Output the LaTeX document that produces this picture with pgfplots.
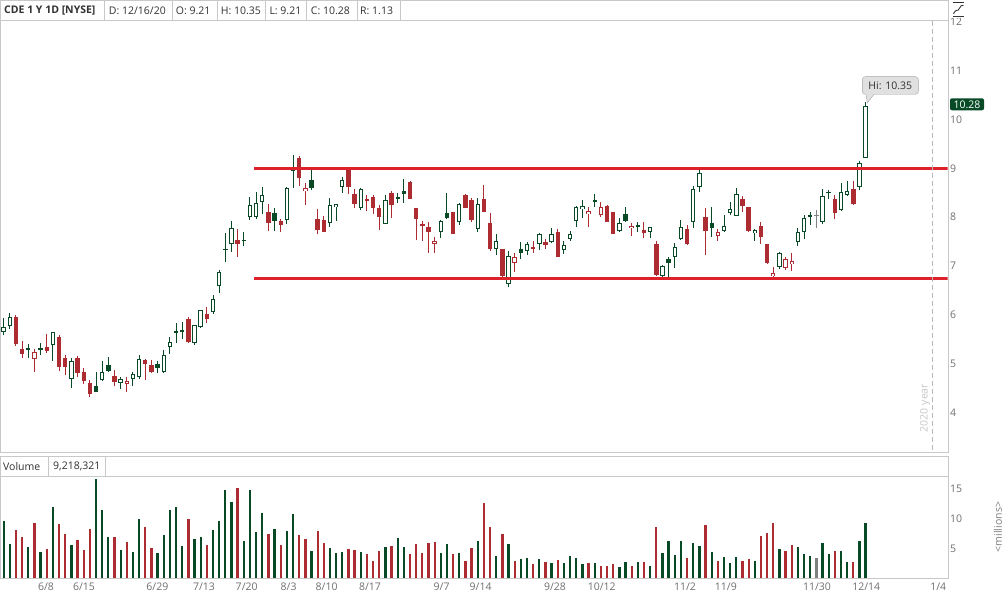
\documentclass[border=0pt]{standalone}
\usepackage{fontspec}
\setmainfont{Open Sans}
\usepackage{pgfplots}
\usepackage{pgfplotstable}
\pgfplotsset{compat=1.18}
\definecolor{cgreen}{RGB}{8,74,38}
\definecolor{cred}{RGB}{172,44,50}
\definecolor{cgray}{RGB}{128,128,128}
\definecolor{rline}{RGB}{222,34,44}
\definecolor{lbl}{RGB}{112,112,112}
\definecolor{frame}{RGB}{200,200,200}
\definecolor{txt}{RGB}{50,50,50}
\newcommand\tf{\fontsize{10.5}{12}\selectfont}

% i open high low close class volume(millions)
% class: 1 hollow green, 2 filled green, 3 hollow red, 4 filled red, 5 gray
\pgfplotstableread{
i o h l c k v
0 5.646 5.932 5.591 5.755 1 9.7
1 5.782 6.034 5.714 5.959 1 5.8
2 5.959 6.007 5.366 5.414 4 8.1
3 5.305 5.462 5.114 5.210 4 7.0
4 5.325 5.407 5.114 5.278 2 5.3
5 5.094 5.305 4.841 5.250 3 9.3
6 5.298 5.434 5.182 5.312 1 4.4
7 5.339 5.619 5.216 5.264 4 4.9
8 5.380 5.659 5.060 5.646 1 11.9
9 5.550 5.584 4.862 4.944 4 9.2
10 5.121 5.175 4.773 4.930 4 7.5
11 4.685 5.114 4.501 5.060 1 5.6
12 5.121 5.162 4.739 4.821 4 6.5
13 4.835 4.910 4.589 4.657 4 4.8
14 4.610 4.671 4.330 4.392 4 8.3
15 4.542 4.828 4.419 4.433 2 16.6
16 4.664 5.066 4.651 4.828 1 11.5
17 4.971 5.148 4.828 4.855 2 7.0
18 4.753 4.876 4.542 4.637 4 7.0
19 4.617 4.739 4.487 4.698 1 4.8
20 4.596 4.726 4.419 4.651 3 6.1
21 4.685 4.828 4.555 4.794 1 4.4
22 4.739 5.182 4.698 5.094 1 10.0
23 5.080 5.094 4.671 5.005 4 8.7
24 4.971 5.080 4.821 4.842 4 5.1
25 4.998 5.060 4.821 4.923 2 4.3
26 4.828 5.285 4.814 5.175 1 7.3
27 5.339 5.557 5.203 5.448 1 11.5
28 5.673 5.844 5.434 5.639 2 11.9
29 5.694 5.864 5.503 5.659 2 5.4
30 5.918 5.952 5.421 5.448 4 10.0
31 5.434 5.803 5.380 5.789 1 6.6
32 5.755 6.109 5.741 6.096 1 7.0
33 6.021 6.157 5.830 5.925 4 5.6
34 6.055 6.402 6.021 6.327 1 8.1
35 6.587 6.921 6.443 6.873 1 9.7
36 7.336 7.670 7.084 7.350 1 14.9
37 7.445 7.929 7.289 7.786 1 12.9
38 7.527 7.752 7.186 7.459 4 15.2
39 7.520 7.704 7.404 7.534 1 6.3
40 8.011 8.407 7.943 8.243 1 14.9
41 8.011 8.509 7.957 8.284 1 7.8
42 8.304 8.611 8.066 8.447 1 11.0
43 8.107 8.263 7.725 7.888 4 7.5
44 8.086 8.195 7.725 7.929 2 8.3
45 7.929 7.970 7.698 7.847 4 5.6
46 7.950 8.625 7.861 8.591 1 8.0
47 8.952 9.272 8.604 8.966 1 10.8
48 9.211 9.259 8.638 8.795 4 7.3
49 8.529 8.693 8.243 8.591 3 6.6
50 8.754 8.966 8.557 8.604 2 4.6
51 7.957 8.161 7.657 7.739 4 8.0
52 7.943 8.032 7.704 7.704 4 6.0
53 7.888 8.386 7.793 8.243 1 5.1
54 8.202 8.263 7.929 8.263 1 4.3
55 8.625 8.816 8.502 8.754 1 4.4
56 8.966 8.979 8.475 8.625 4 4.9
57 8.468 8.570 8.195 8.270 4 4.8
58 8.182 8.604 8.148 8.570 1 4.4
59 8.372 8.447 8.134 8.345 4 4.1
60 8.413 8.447 8.066 8.195 4 2.9
61 8.188 8.243 7.739 8.011 4 4.6
62 7.854 8.447 7.854 8.345 1 5.3
63 8.495 8.543 7.977 8.257 4 5.4
64 8.407 8.488 8.284 8.366 2 6.8
65 8.536 8.781 8.284 8.468 2 5.3
66 8.727 8.747 8.366 8.379 4 4.1
67 8.182 8.182 7.534 7.963 4 5.8
68 7.854 7.923 7.514 7.841 4 4.3
69 7.800 7.909 7.261 7.704 4 6.0
70 7.452 7.602 7.261 7.514 3 6.1
71 7.704 7.943 7.568 7.923 1 4.3
72 8.086 8.488 7.963 7.990 2 5.8
73 8.099 8.113 7.649 7.656 4 4.1
74 7.895 8.283 7.840 8.270 1 4.3
75 8.454 8.474 8.181 8.195 4 2.9
76 8.351 8.386 7.908 7.942 4 5.1
77 7.765 8.386 7.697 8.263 1 6.3
78 8.372 8.658 8.099 8.113 4 12.7
79 7.888 8.092 7.315 7.349 4 8.7
80 7.343 7.649 7.227 7.513 1 3.8
81 7.343 7.356 6.770 6.797 4 7.5
82 6.627 7.309 6.565 7.206 1 5.8
83 7.056 7.261 6.886 7.179 3 2.9
84 7.349 7.499 7.145 7.261 2 3.3
85 7.315 7.499 7.227 7.452 1 3.4
86 7.384 7.520 7.274 7.370 4 2.4
87 7.452 7.683 7.329 7.649 1 3.3
88 7.493 7.547 7.343 7.438 4 2.8
89 7.499 7.772 7.465 7.656 1 2.6
90 7.697 7.752 7.193 7.193 4 3.1
91 7.329 7.513 7.240 7.424 1 2.6
92 7.554 7.724 7.520 7.656 1 3.8
93 7.929 8.229 7.806 8.201 1 3.4
94 8.167 8.351 7.977 8.229 1 2.4
95 8.058 8.215 7.806 8.127 3 2.6
96 8.331 8.474 8.201 8.345 1 2.6
97 8.045 8.304 8.011 8.201 3 2.1
98 8.229 8.249 7.908 7.908 4 2.1
99 8.106 8.113 7.656 7.656 4 2.4
100 7.718 7.977 7.704 7.888 1 1.9
101 8.065 8.201 7.908 7.922 2 2.8
102 7.772 7.874 7.622 7.820 3 2.1
103 7.813 7.895 7.704 7.827 1 2.8
104 7.738 7.895 7.568 7.670 4 2.8
105 7.690 7.806 7.581 7.793 1 2.1
106 7.452 7.520 6.798 6.818 4 8.7
107 6.804 7.022 6.784 7.002 1 4.3
108 7.138 7.193 6.764 7.070 2 6.3
109 7.193 7.466 6.954 7.397 1 3.9
110 7.554 7.943 7.534 7.793 1 6.3
111 7.759 7.840 7.432 7.452 4 3.4
112 7.895 8.645 7.786 8.570 1 6.0
113 8.624 8.965 8.509 8.911 1 5.4
114 7.997 8.181 7.227 7.725 4 9.0
115 7.875 8.215 7.602 7.786 2 4.4
116 7.622 7.759 7.520 7.691 3 2.9
117 7.725 8.045 7.691 7.813 1 3.6
118 8.079 8.304 8.045 8.161 1 2.6
119 8.031 8.590 8.031 8.475 1 3.6
120 8.372 8.440 8.099 8.236 4 2.9
121 8.209 8.209 7.704 7.725 4 3.3
122 7.670 7.759 7.520 7.738 1 2.9
123 7.820 7.909 7.445 7.602 4 7.1
124 7.452 7.452 7.036 7.057 4 7.6
125 6.798 6.975 6.750 6.852 3 9.3
126 6.975 7.295 6.941 7.261 1 4.9
127 6.968 7.193 6.920 7.145 3 4.6
128 7.036 7.275 6.907 7.104 3 5.6
129 7.500 7.772 7.418 7.691 1 5.3
130 7.704 8.045 7.554 7.977 1 4.1
131 8.025 8.113 7.840 8.038 1 3.8
132 8.040 8.147 7.786 8.038 5 3.4
133 7.909 8.577 7.861 8.440 1 6.0
134 8.502 8.556 8.365 8.515 1 4.1
135 8.365 8.454 7.963 8.079 4 4.6
136 8.147 8.693 8.134 8.522 1 4.6
137 8.454 8.740 8.440 8.543 1 2.8
138 8.570 8.740 8.250 8.263 4 2.8
139 8.611 9.149 8.556 9.115 1 6.3
140 9.21 10.35 9.21 10.28 1 9.22
}\candles

\pgfplotsset{
  ebar/.style n args={3}{draw=none, mark=none, forget plot,
    restrict expr to domain={\thisrow{k}}{#1},
    error bars/.cd, y dir=both, y explicit, error mark=none,
    error bar style={line width=#3, draw=#2, line cap=butt, solid}},
  vbar/.style 2 args={ycomb, mark=none, line width=2.3pt, draw=#2, line cap=butt,
    restrict expr to domain={\thisrow{k}}{#1}},
  chartaxis/.style={scale only axis, width=947.7pt, xmin=-0.596, xmax=153.33,
    axis line style={draw=frame}, tick style={draw=none}, major tick length=0pt,
    yticklabel pos=right, xtick=\empty,
    /pgf/number format/assume math mode=true,
    yticklabel style={anchor=west, inner sep=0pt, xshift=2.3pt, text=lbl, font=\tf},
    axis background/.style={fill=white}},
}

\begin{document}
\begin{tikzpicture}
\path[use as bounding box] (0pt,0pt) rectangle (1007pt,597pt);
\fill[white] (0pt,0pt) rectangle (1007pt,597pt);

% ---------- price panel ----------
\begin{axis}[chartaxis, at={(0pt,144.7pt)}, anchor=south west, height=452.3pt,
  ymin=3.192, ymax=12.442, ytick={4,5,6,7,8,9,10,11,12}]
% wicks
\addplot[ebar={1:2}{cgreen}{1pt}] table[x=i, y expr={(\thisrow{h}+\thisrow{l})/2}, y error expr={(\thisrow{h}-\thisrow{l})/2}] {\candles};
\addplot[ebar={3:4}{cred}{1pt}] table[x=i, y expr={(\thisrow{h}+\thisrow{l})/2}, y error expr={(\thisrow{h}-\thisrow{l})/2}] {\candles};
\addplot[ebar={5:5}{cgray}{1pt}] table[x=i, y expr={(\thisrow{h}+\thisrow{l})/2}, y error expr={(\thisrow{h}-\thisrow{l})/2}] {\candles};
% bodies
\addplot[ebar={1:2}{cgreen}{4.4pt}] table[x=i, y expr={(\thisrow{o}+\thisrow{c})/2}, y error expr={max(abs(\thisrow{c}-\thisrow{o})/2,0.011)}] {\candles};
\addplot[ebar={3:4}{cred}{4.4pt}] table[x=i, y expr={(\thisrow{o}+\thisrow{c})/2}, y error expr={max(abs(\thisrow{c}-\thisrow{o})/2,0.011)}] {\candles};
\addplot[ebar={5:5}{cgray}{4.4pt}] table[x=i, y expr={(\thisrow{o}+\thisrow{c})/2}, y error expr={max(abs(\thisrow{c}-\thisrow{o})/2,0.011)}] {\candles};
% hollow interiors
\addplot[ebar={1:1}{white}{2.4pt}] table[x=i, y expr={(\thisrow{o}+\thisrow{c})/2}, y error expr={max(abs(\thisrow{c}-\thisrow{o})/2-0.0205,0)}] {\candles};
\addplot[ebar={3:3}{white}{2.4pt}] table[x=i, y expr={(\thisrow{o}+\thisrow{c})/2}, y error expr={max(abs(\thisrow{c}-\thisrow{o})/2-0.0205,0)}] {\candles};
% channel lines
\addplot[rline, line width=3pt, forget plot] coordinates {(40.66,9.0) (153.33,9.0)};
\addplot[rline, line width=3pt, forget plot] coordinates {(40.66,6.737) (153.33,6.737)};
\end{axis}

% ---------- volume panel ----------
\begin{axis}[chartaxis, at={(0pt,18.7pt)}, anchor=south west, height=121.6pt,
  ymin=0, ymax=20.43, ytick={5,10,15},
  xtick={6.87,13.04,24.96,32.54,39.47,46.29,52.46,59.5,71.14,77.47,89.54,97.13,110.66,117.3,132.1,140.1,151.8},
  xticklabels={6/8,6/15,6/29,7/13,7/20,8/3,8/10,8/17,9/7,9/14,9/28,10/12,11/2,11/9,11/30,12/14,1/4},
  xticklabel style={anchor=base, inner sep=0pt, yshift=-12.5pt, text=lbl, font=\tf}]
\addplot[vbar={1:2}{cgreen}] table[x=i, y=v] {\candles};
\addplot[vbar={3:4}{cred}] table[x=i, y=v] {\candles};
\addplot[vbar={5:5}{cgray}] table[x=i, y=v] {\candles};
\end{axis}

% ---------- frames, header and annotations ----------
\draw[frame] (0pt,576.3pt) -- (947.7pt,576.3pt);
\draw[frame] (0pt,596.6pt) -- (947.7pt,596.6pt);
\foreach \xx in {104,172,216.7,265.3,306,356.7,400}
  \draw[frame] (\xx pt,576.3pt) -- (\xx pt,596.6pt);
\node[anchor=west, inner sep=0pt, text=txt, font=\tf\bfseries] at (4pt,586.5pt) {CDE 1 Y 1D [NYSE]};
\node[anchor=west, inner sep=0pt, text=txt, font=\tf] at (108.7pt,586.5pt) {D: 12/16/20};
\node[anchor=west, inner sep=0pt, text=txt, font=\tf] at (175.7pt,586.5pt) {O: 9.21};
\node[anchor=west, inner sep=0pt, text=txt, font=\tf] at (220.7pt,586.5pt) {H: 10.35};
\node[anchor=west, inner sep=0pt, text=txt, font=\tf] at (269.3pt,586.5pt) {L: 9.21};
\node[anchor=west, inner sep=0pt, text=txt, font=\tf] at (310.7pt,586.5pt) {C: 10.28};
\node[anchor=west, inner sep=0pt, text=txt, font=\tf] at (360pt,586.5pt) {R: 1.13};

% volume header
\draw[frame] (0pt,121pt) -- (947.7pt,121pt);
\draw[frame] (48.3pt,121pt) -- (48.3pt,140.3pt);
\draw[frame] (105.3pt,121pt) -- (105.3pt,140.3pt);
\node[anchor=west, inner sep=0pt, text=txt, font=\tf] at (3pt,130.6pt) {Volume};
\node[anchor=west, inner sep=0pt, text=txt, font=\tf] at (53pt,130.6pt) {9,218,321};

% year separator
\draw[black!28, dash pattern=on 5pt off 3pt] (932.3pt,576.3pt) -- (932.3pt,144.7pt);
\node[rotate=90, text=black!22, font=\tf, inner sep=0pt] at (925pt,189pt) {2020 year};

% high callout
\fill[black!12, draw=black!35, rounded corners=3pt] (862.3pt,502.7pt) rectangle (918.3pt,520.3pt);
\fill[black!12] (866pt,503.3pt) -- (874pt,503.3pt) -- (867.3pt,494pt) -- cycle;
\draw[black!35] (866pt,502.7pt) -- (867.3pt,494pt) -- (874pt,502.7pt);
\node[text=txt, font=\tf, inner sep=0pt] at (890.3pt,511.5pt) {Hi: 10.35};

% last price label
\fill[cgreen, rounded corners=2pt] (950pt,486.7pt) rectangle (984pt,498.7pt);
\node[text=white, font=\tf, inner sep=0pt] at (967pt,492.7pt) {10.28};

% millions label
\node[rotate=90, text=black!50, font=\tf, inner sep=0pt] at (998pt,70pt) {<millions>};

% axis settings icon
\fill[white] (950pt,579pt) rectangle (968pt,597pt);
\draw[black!80, line width=1.1pt] (952.5pt,594.3pt) -- (964pt,594.3pt);
\draw[black!80, line width=1.1pt] (952.5pt,580.6pt) -- (964pt,580.6pt);
\draw[black!80, line width=0.9pt] (953.5pt,583.2pt) .. controls (956pt,589pt) and (958pt,585pt) .. (959pt,588pt)
  .. controls (960pt,591pt) and (962pt,592pt) .. (963.5pt,591.8pt);
\end{tikzpicture}
\end{document}
